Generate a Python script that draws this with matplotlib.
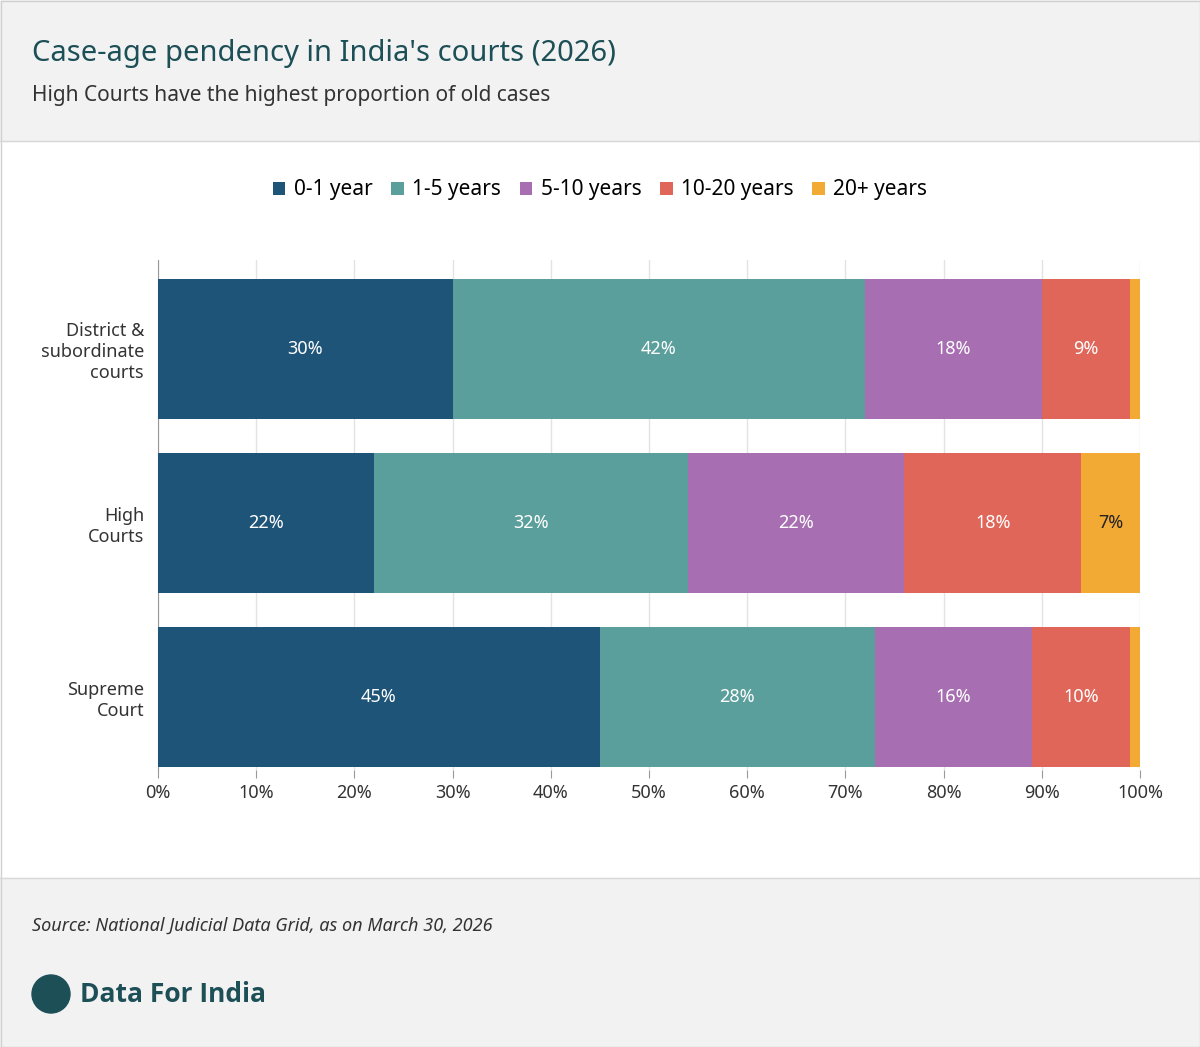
import matplotlib
matplotlib.use("Agg")
import matplotlib.pyplot as plt
import numpy as np
from matplotlib.patches import Rectangle, Circle

plt.rcParams['font.family'] = ['Noto Sans', 'DejaVu Sans']

courts = ["District &\nsubordinate\ncourts", "High\nCourts", "Supreme\nCourt"]
groups = ["0-1 year", "1-5 years", "5-10 years", "10-20 years", "20+ years"]
colors = ["#1f5479", "#5a9f9b", "#a76fb1", "#e0665a", "#f2aa35"]
shares = np.array([
    [30, 42, 18, 9, 1],
    [22, 32, 22, 18, 6],
    [45, 28, 16, 10, 1],
])
labels = [
    ["30%", "42%", "18%", "9%", ""],
    ["22%", "32%", "22%", "18%", "7%"],
    ["45%", "28%", "16%", "10%", ""],
]

W, H = 1200, 1047
fig = plt.figure(figsize=(W / 100, H / 100), dpi=100)
fig.patch.set_facecolor("white")

# background bands
bg = fig.add_axes([0, 0, 1, 1], zorder=-5)
bg.set_xlim(0, W); bg.set_ylim(H, 0); bg.axis("off")
bg.add_patch(Rectangle((0, 0), W, 141, color="#f2f2f2"))
bg.add_patch(Rectangle((0, 878), W, H - 878, color="#f2f2f2"))
bg.plot([0, W], [141, 141], color="#d8d8d8", lw=1)
bg.plot([0, W], [878, 878], color="#d8d8d8", lw=1)
bg.add_patch(Rectangle((0.5, 0.5), W - 1, H - 1, fill=False, ec="#d0d0d0", lw=1))

bg.text(32, 54, "Case-age pendency in India's courts (2026)", fontsize=21,
        color="#1d4f57", va="center", ha="left")
bg.text(32, 96, "High Courts have the highest proportion of old cases", fontsize=15,
        color="#333333", va="center", ha="left")
bg.text(32, 926, "Source: National Judicial Data Grid, as on March 30, 2026", fontsize=13,
        color="#333333", va="center", ha="left", style="italic")
bg.add_patch(Circle((51, 994), 19, color="#1d4f57"))
bg.text(80, 994, "Data For India", fontsize=19, fontweight="bold",
        family=["Open Sans", "DejaVu Sans"], color="#1d4f57", va="center", ha="left")

# main chart
x0, x1, y0, y1 = 158, 1140, 260, 770
ax = fig.add_axes([x0 / W, 1 - y1 / H, (x1 - x0) / W, (y1 - y0) / H])
ypos = np.arange(len(courts))
left = np.zeros(len(courts))
for j, g in enumerate(groups):
    ax.barh(ypos, shares[:, j], left=left, height=0.805, color=colors[j], label=g, zorder=3)
    for i in range(len(courts)):
        if labels[i][j]:
            tc = "#222222" if j == 4 else "white"
            ax.text(left[i] + shares[i, j] / 2, ypos[i], labels[i][j], ha="center",
                    va="center", color=tc, fontsize=13, zorder=4)
    left += shares[:, j]

ax.set_xlim(0, 100)
ax.set_ylim(2.42, -0.51)
ax.set_xticks(np.arange(0, 101, 10))
ax.set_xticklabels([f"{v}%" for v in range(0, 101, 10)], fontsize=13, color="#333333")
ax.set_yticks(ypos)
ax.set_yticklabels(courts, fontsize=13, color="#333333", ha="right", multialignment="right")
ax.grid(axis="x", color="#e3e3e3", lw=1, zorder=0)
for s in ["top", "right", "bottom"]:
    ax.spines[s].set_visible(False)
ax.spines["left"].set_color("#999999")
ax.tick_params(axis="y", length=0, pad=10)
ax.tick_params(axis="x", length=6, color="#999999", pad=4)

ax.legend(loc="center", bbox_to_anchor=(600 / W, 1 - 190 / H), bbox_transform=fig.transFigure,
          ncol=5, frameon=False, fontsize=15, handlelength=0.6, handleheight=0.6,
          handletextpad=0.4, columnspacing=0.9)

fig.savefig("out.png", dpi=100)
